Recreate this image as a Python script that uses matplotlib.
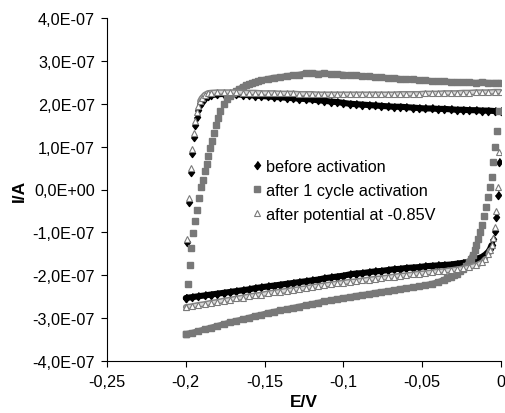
import matplotlib
matplotlib.use("Agg")
from matplotlib import pyplot as plt

plt.rcParams["font.family"] = ["Liberation Sans", "DejaVu Sans"]

SCALE = 1e-7  # currents below are read in units of 1E-07 A

# before activation (diamonds)
E_before_up = [-0.200, -0.199, -0.198, -0.197, -0.196, -0.195, -0.194, -0.193, -0.192, -0.191,
               -0.190, -0.188, -0.186, -0.184, -0.180, -0.176, -0.172, -0.168, -0.164, -0.160,
               -0.156, -0.152, -0.148, -0.144, -0.140, -0.136, -0.132, -0.128, -0.124, -0.120,
               -0.116, -0.112, -0.108, -0.104, -0.100, -0.096, -0.092, -0.088, -0.084, -0.080,
               -0.076, -0.072, -0.068, -0.064, -0.060, -0.056, -0.052, -0.048, -0.044, -0.040,
               -0.036, -0.032, -0.028, -0.024, -0.020, -0.016, -0.012, -0.008, -0.004, 0.000]
I_before_up = [-2.53, -1.23, -0.30, 0.40, 0.86, 1.23, 1.51, 1.70, 1.86, 1.97,
               2.05, 2.13, 2.18, 2.20, 2.22, 2.23, 2.23, 2.22, 2.21, 2.20,
               2.19, 2.18, 2.17, 2.16, 2.15, 2.14, 2.13, 2.12, 2.11, 2.10,
               2.08, 2.07, 2.05, 2.04, 2.02, 2.00, 1.99, 1.98, 1.97, 1.96,
               1.95, 1.94, 1.93, 1.93, 1.92, 1.91, 1.90, 1.89, 1.89, 1.88,
               1.88, 1.87, 1.86, 1.86, 1.85, 1.85, 1.84, 1.84, 1.83, 1.82]
E_before_down = [-0.001, -0.002, -0.003, -0.004, -0.005, -0.006, -0.007, -0.008, -0.010,
                 -0.012, -0.016, -0.020, -0.024, -0.028, -0.032, -0.036, -0.040, -0.044, -0.048,
                 -0.052, -0.056, -0.060, -0.064, -0.068, -0.072, -0.076, -0.080, -0.084, -0.088,
                 -0.092, -0.096, -0.100, -0.104, -0.108, -0.112, -0.116, -0.120, -0.124, -0.128,
                 -0.132, -0.136, -0.140, -0.144, -0.148, -0.152, -0.156, -0.160, -0.164, -0.168,
                 -0.172, -0.176, -0.180, -0.184, -0.188, -0.192, -0.196, -0.200]
I_before_down = [0.63, -0.12, -0.63, -0.97, -1.16, -1.30, -1.39, -1.45, -1.52,
                 -1.57, -1.63, -1.68, -1.71, -1.73, -1.75, -1.76, -1.77, -1.78, -1.79,
                 -1.81, -1.82, -1.83, -1.85, -1.86, -1.88, -1.90, -1.91, -1.93, -1.95,
                 -1.96, -1.98, -2.01, -2.03, -2.05, -2.07, -2.10, -2.12, -2.14, -2.16,
                 -2.18, -2.20, -2.22, -2.24, -2.26, -2.28, -2.30, -2.33, -2.35, -2.37,
                 -2.39, -2.41, -2.43, -2.45, -2.47, -2.49, -2.51, -2.53]

# after 1 cycle activation (squares)
E_cycle_up = [-0.2000, -0.1988, -0.1976, -0.1964, -0.1952, -0.1940, -0.1928, -0.1916, -0.1904, -0.1892,
              -0.1880, -0.1868, -0.1856, -0.1844, -0.1832, -0.1820, -0.1808, -0.1796, -0.1784,
              -0.176, -0.174, -0.172, -0.170, -0.168, -0.166, -0.164, -0.162, -0.160, -0.158,
              -0.156, -0.154, -0.152,
              -0.148, -0.144, -0.140, -0.136, -0.132, -0.128, -0.124, -0.120, -0.116, -0.112,
              -0.108, -0.104, -0.100, -0.096, -0.092, -0.088, -0.084, -0.080, -0.076, -0.072,
              -0.068, -0.064, -0.060, -0.056, -0.052, -0.048, -0.044, -0.040, -0.036, -0.032,
              -0.028, -0.024, -0.020, -0.016, -0.012, -0.008, -0.004, 0.000]
I_cycle_up = [-3.37, -2.21, -1.77, -1.37, -1.02, -0.74, -0.47, -0.19, 0.05, 0.23,
              0.42, 0.59, 0.77, 0.96, 1.13, 1.32, 1.50, 1.67, 1.84,
              2.00, 2.10, 2.18, 2.24, 2.30, 2.35, 2.39, 2.43, 2.46, 2.49,
              2.51, 2.53, 2.55,
              2.58, 2.61, 2.62, 2.65, 2.66, 2.68, 2.71, 2.72, 2.70, 2.71,
              2.69, 2.69, 2.68, 2.66, 2.66, 2.64, 2.64, 2.62, 2.62, 2.60,
              2.60, 2.58, 2.57, 2.57, 2.55, 2.55, 2.53, 2.53, 2.52, 2.51,
              2.51, 2.50, 2.50, 2.49, 2.50, 2.49, 2.49, 2.49]
E_cycle_down = [-0.0012, -0.0024, -0.0036, -0.0048, -0.0060, -0.0072, -0.0084, -0.0096, -0.0108,
                -0.0120, -0.0132, -0.0144, -0.0156, -0.0168, -0.0180, -0.0192, -0.0204,
                -0.022, -0.024, -0.026, -0.028, -0.030, -0.032, -0.034,
                -0.036, -0.040, -0.044, -0.048, -0.052, -0.056, -0.060, -0.064, -0.068, -0.072,
                -0.076, -0.080, -0.084, -0.088, -0.092, -0.096, -0.100, -0.104, -0.108, -0.112,
                -0.116, -0.120, -0.124, -0.128, -0.132, -0.136, -0.140, -0.144, -0.148, -0.152,
                -0.156, -0.160, -0.164, -0.168, -0.172, -0.176, -0.180, -0.184, -0.188, -0.192,
                -0.196, -0.200]
I_cycle_down = [1.84, 1.37, 0.98, 0.63, 0.30, 0.05, -0.18, -0.40, -0.62,
                -0.82, -1.00, -1.16, -1.30, -1.42, -1.53, -1.62, -1.70,
                -1.78, -1.85, -1.91, -1.96, -2.00, -2.04, -2.07,
                -2.10, -2.16, -2.20, -2.23, -2.26, -2.28, -2.30, -2.32, -2.35, -2.37,
                -2.39, -2.41, -2.44, -2.46, -2.48, -2.51, -2.53, -2.56, -2.58, -2.61,
                -2.64, -2.67, -2.70, -2.73, -2.76, -2.79, -2.82, -2.85, -2.88, -2.92,
                -2.95, -2.99, -3.03, -3.06, -3.10, -3.14, -3.18, -3.22, -3.26, -3.30,
                -3.34, -3.37]

# after potential at -0.85V (triangles)
E_pot_up = list(E_before_up)
I_pot_up = [-2.74, -1.15, -0.20, 0.50, 0.95, 1.32, 1.60, 1.80, 1.95, 2.06,
            2.13, 2.21, 2.25, 2.26, 2.27, 2.27, 2.27, 2.27, 2.26, 2.26,
            2.26, 2.25, 2.25, 2.25, 2.24, 2.24, 2.24, 2.23, 2.23, 2.23,
            2.22, 2.22, 2.22, 2.22, 2.22, 2.22, 2.22, 2.22, 2.22, 2.22,
            2.22, 2.22, 2.22, 2.23, 2.23, 2.23, 2.23, 2.24, 2.24, 2.24,
            2.25, 2.25, 2.25, 2.26, 2.26, 2.27, 2.27, 2.27, 2.28, 2.28]
E_pot_down = list(E_before_down)
I_pot_down = [0.88, 0.05, -0.50, -0.88, -1.12, -1.30, -1.42, -1.51, -1.62,
              -1.70, -1.77, -1.81, -1.84, -1.86, -1.88, -1.90, -1.91, -1.93, -1.95,
              -1.96, -1.98, -2.00, -2.01, -2.03, -2.05, -2.07, -2.08, -2.10, -2.12,
              -2.14, -2.15, -2.17, -2.19, -2.21, -2.23, -2.25, -2.27, -2.30, -2.32,
              -2.34, -2.36, -2.38, -2.40, -2.42, -2.45, -2.47, -2.49, -2.52, -2.54,
              -2.57, -2.59, -2.62, -2.64, -2.67, -2.69, -2.72, -2.74]

x_ticks = [-0.25, -0.2, -0.15, -0.1, -0.05, 0]
x_labels = ["-0,25", "-0,2", "-0,15", "-0,1", "-0,05", "0"]
y_ticks = [-4e-7, -3e-7, -2e-7, -1e-7, 0, 1e-7, 2e-7, 3e-7, 4e-7]
y_labels = ["-4,0E-07", "-3,0E-07", "-2,0E-07", "-1,0E-07", "0,0E+00",
            "1,0E-07", "2,0E-07", "3,0E-07", "4,0E-07"]

diamond = [(0, 1), (0.75, 0), (0, -1), (-0.75, 0)]


def sweep(E_up, I_up, E_down, I_down):
    assert len(E_up) == len(I_up) and len(E_down) == len(I_down)
    return E_up + E_down, [v * SCALE for v in I_up + I_down]


def dense_runs(E, I, max_jump=0.1 * SCALE):
    # the instrument points overlap into a solid band where the current changes slowly
    runs, run = [], [0]
    for k in range(1, len(E)):
        if abs(I[k] - I[k - 1]) <= max_jump:
            run.append(k)
        else:
            if len(run) > 1:
                runs.append(run)
            run = [k]
    if len(run) > 1:
        runs.append(run)
    return [([E[k] for k in r], [I[k] for k in r]) for r in runs]


def plot_cv():
    fig = plt.figure(figsize=(5.06, 4.14), dpi=100)
    ax = fig.add_axes([107 / 506, 52 / 414, 394 / 506, 343 / 414])

    E, I = sweep(E_before_up, I_before_up, E_before_down, I_before_down)
    for e, i in dense_runs(E, I):
        ax.plot(e, i, color="black", linewidth=4.4, solid_capstyle="round", zorder=2)
    ax.plot(E, I, linestyle="none", marker=diamond, markersize=5.8,
            color="black", label="before activation", zorder=2)

    E, I = sweep(E_cycle_up, I_cycle_up, E_cycle_down, I_cycle_down)
    for e, i in dense_runs(E, I):
        ax.plot(e, i, color="#787878", linewidth=4.2, solid_capstyle="round", zorder=3)
    ax.plot(E, I, linestyle="none", marker="s", markersize=3.7,
            color="#787878", label="after 1 cycle activation", zorder=3)

    E, I = sweep(E_pot_up, I_pot_up, E_pot_down, I_pot_down)
    for e, i in dense_runs(E, I):
        ax.plot(e, i, color="#858585", linewidth=4.2, solid_capstyle="round", zorder=4)
        ax.plot(e, i, color="#d8d8d8", linewidth=2.0, solid_capstyle="round", zorder=4)
    ax.plot(E, I, linestyle="none", marker="^", markersize=4.4,
            markerfacecolor="white", markeredgecolor="#7a7a7a", markeredgewidth=0.8,
            label="after potential at -0.85V", zorder=4)

    ax.set_xlim(-0.25, 0)
    ax.set_ylim(-4e-7, 4e-7)
    ax.set_xticks(x_ticks)
    ax.set_xticklabels(x_labels)
    ax.set_yticks(y_ticks)
    ax.set_yticklabels(y_labels)
    ax.tick_params(direction="out", length=4.5, width=0.8, labelsize=11.7, color="black")
    ax.tick_params(axis="x", pad=5)
    ax.tick_params(axis="y", pad=4)
    for side in ("top", "right"):
        ax.spines[side].set_visible(False)
    for side in ("left", "bottom"):
        ax.spines[side].set_linewidth(0.8)

    ax.set_xlabel("E/V", fontsize=12.5, fontweight="bold")
    ax.set_ylabel("I/A", fontsize=12.5, fontweight="bold")
    ax.xaxis.set_label_coords(0.5, -0.096)
    ax.yaxis.set_label_coords(-0.203, 0.5)

    ax.legend(loc="upper left", bbox_to_anchor=(252 / 506, 1 - 160 / 414),
              bbox_transform=fig.transFigure, frameon=False, fontsize=11.7,
              numpoints=1, handlelength=0.6, handletextpad=0.25,
              labelspacing=0.54, borderpad=0, borderaxespad=0)

    fig.savefig("out.png", dpi=100)


if __name__ == "__main__":
    plot_cv()
